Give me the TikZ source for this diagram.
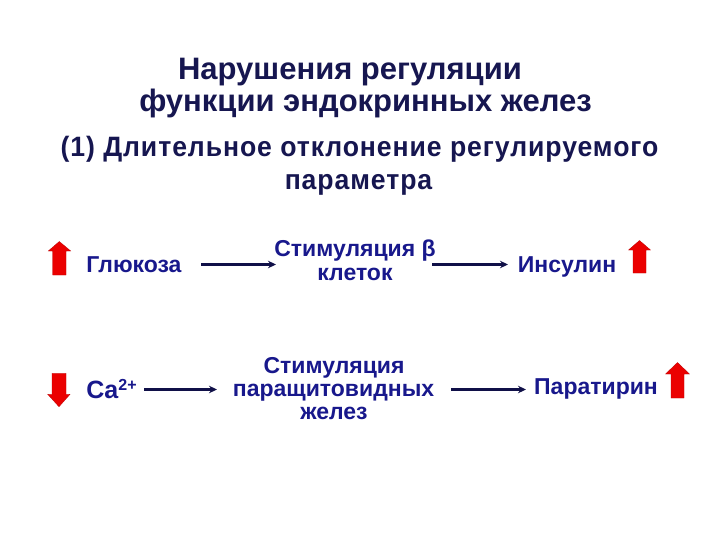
\documentclass[tikz,border=0pt]{standalone}
\usepackage{fontspec}
\setmainfont{Liberation Sans}
\newfontfamily\narrowfont[FakeStretch=0.95,LetterSpace=3.3]{Liberation Sans}
\usetikzlibrary{arrows.meta}
\definecolor{titlec}{RGB}{22,22,80}
\definecolor{bodyc}{RGB}{24,24,140}
\definecolor{arrc}{RGB}{16,16,72}
\definecolor{redc}{RGB}{235,0,0}
\tikzset{
  titletext/.style={text=titlec, font=\fontsize{31}{36}\selectfont\bfseries, inner sep=0pt, anchor=base},
  subtext/.style={text=titlec, font=\narrowfont\fontsize{28}{32}\selectfont\bfseries, inner sep=0pt, anchor=base},
  bodytext/.style={text=bodyc, font=\fontsize{23}{24}\selectfont\bfseries, inner sep=0pt, anchor=base, align=center},
  link/.style={draw=arrc, line width=2.8pt, -{Stealth[length=8pt,width=7.5pt]}},
  uparrow/.style={fill=redc, draw=redc!80!black, line width=0.3pt},
}
\begin{document}
\begin{tikzpicture}[x=1pt,y=-1pt]
\useasboundingbox[fill=white] (0,0) rectangle (720,540);
% titles
\node[titletext] (t1) at (350,80) {Нарушения регуляции};
\node[titletext] (t2) at (365.5,112) {функции эндокринных желез};
\node[subtext] (t3) at (359.5,157) {(1) Длительное отклонение регулируемого};
\node[subtext] (t4) at (358.5,190) {параметра};
% row 1
\node[bodytext] (glu) at (134,272) {Глюкоза};
\node[bodytext] (stim1) at (355,256.5) {Стимуляция β};
\node[bodytext] (cells) at (355,280) {клеток};
\node[bodytext] (ins) at (567,272) {Инсулин};
% row 2
\node[bodytext, font=\fontsize{25}{26}\selectfont\bfseries] (ca) at (111.5,398) {Ca{\fontsize{16}{16}\selectfont\raisebox{8pt}{2+}}};
\node[bodytext] (stim2) at (334,373) {Стимуляция};
\node[bodytext] (para) at (333.5,396) {паращитовидных};
\node[bodytext] (glands) at (334,419) {желез};
\node[bodytext] (pth) at (596,394) {Паратирин};
% connector ends
\coordinate (a1s) at (201,264.5);
\coordinate (a1e) at (276,264.5);
\coordinate (a2s) at (432,264.5);
\coordinate (a2e) at (508,264.5);
\coordinate (a3s) at (144,389.5);
\coordinate (a3e) at (217,389.5);
\coordinate (a4s) at (451,389.5);
\coordinate (a4e) at (526,389.5);
\draw[link] (a1s) -- (a1e);
\draw[link] (a2s) -- (a2e);
\draw[link] (a3s) -- (a3e);
\draw[link] (a4s) -- (a4e);
% red arrows
\path[uparrow] (52.7,275) -- (66,275) -- (66,251) -- (70.7,251) -- (59.3,241.5) -- (48.3,251) -- (52.7,251) -- cycle;
\path[uparrow] (633,273) -- (646,273) -- (646,250) -- (650.5,250) -- (639.5,240.5) -- (628.5,250) -- (633,250) -- cycle;
\path[uparrow] (52,373.3) -- (66,373.3) -- (66,394.3) -- (70,394.3) -- (59,406.7) -- (47.7,394.3) -- (52,394.3) -- cycle;
\path[uparrow] (671,398) -- (684,398) -- (684,374) -- (689.5,374) -- (677.5,362.5) -- (665.5,374) -- (671,374) -- cycle;
\end{tikzpicture}
\end{document}
